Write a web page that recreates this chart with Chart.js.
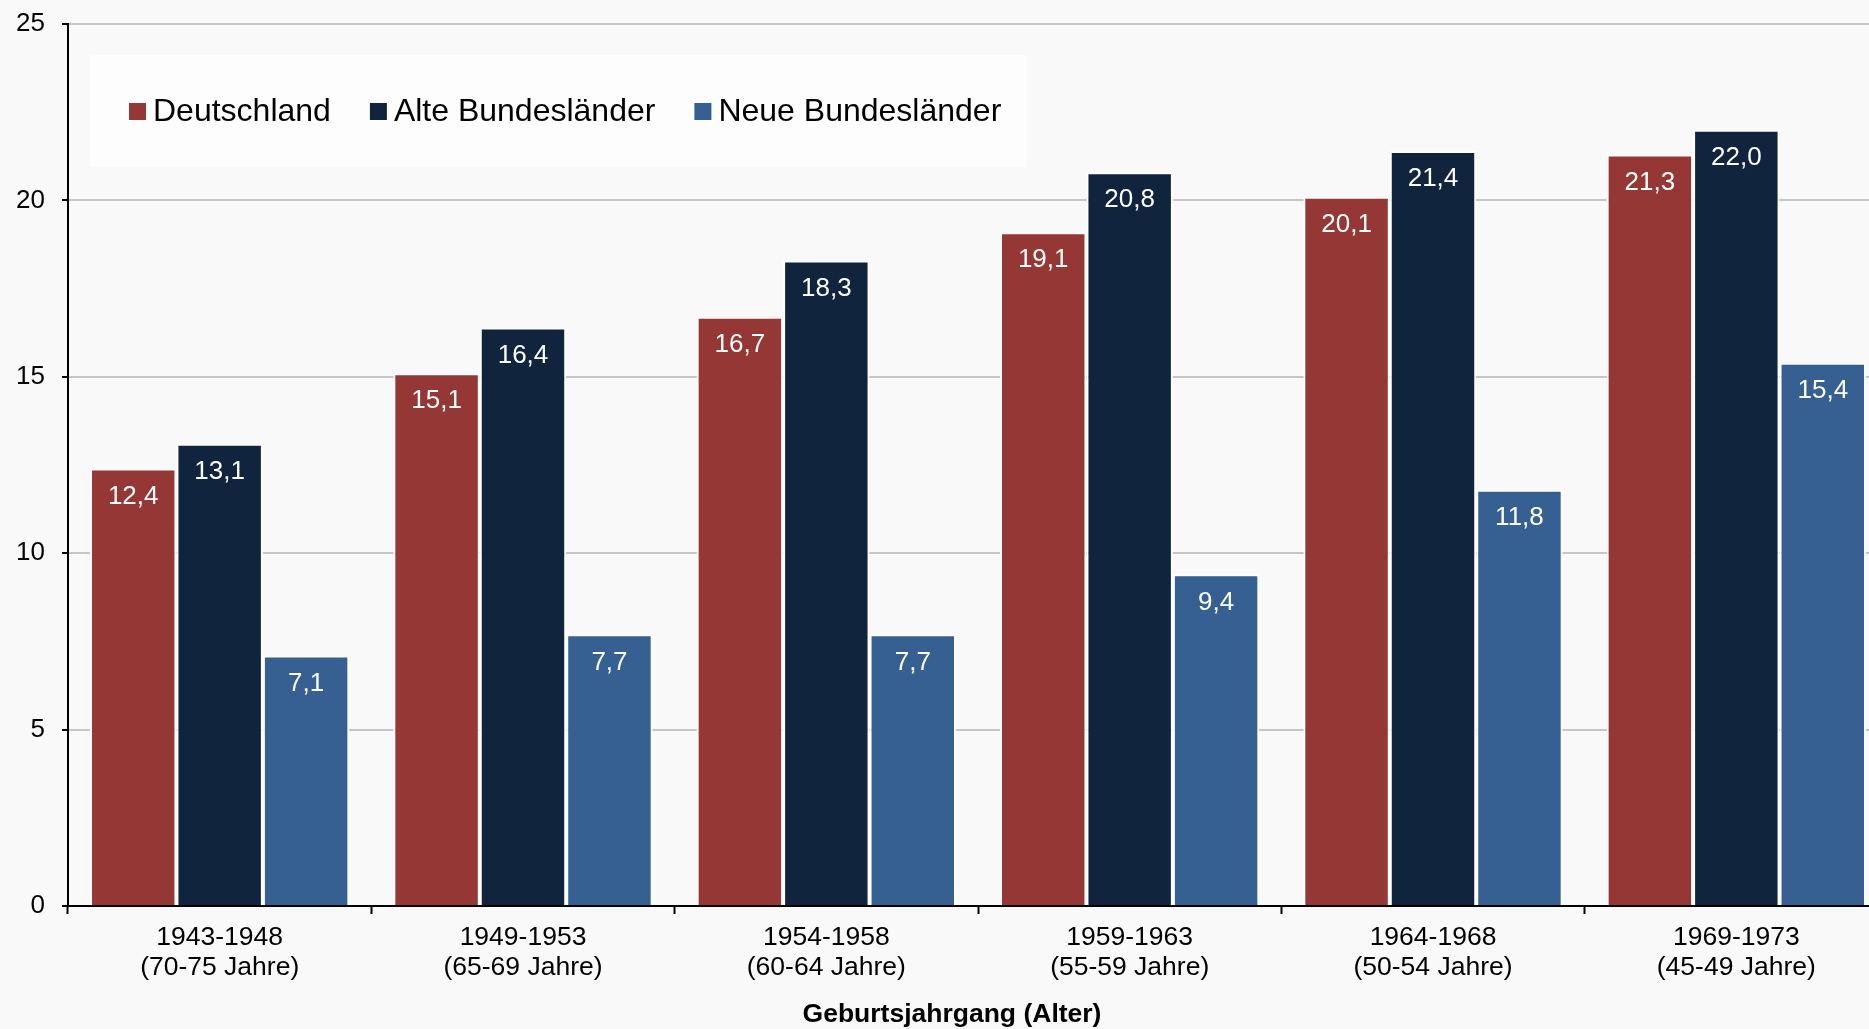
<!DOCTYPE html>
<html lang="de">
<head>
<meta charset="utf-8">
<title>Geburtsjahrgang (Alter)</title>
<script src="https://cdn.jsdelivr.net/npm/chart.js@4/dist/chart.umd.min.js"></script>
<style>
  html, body { margin: 0; padding: 0; background: #f9f9f9; overflow: hidden; }
  #wrap { width: 1869px; height: 1029px; overflow: hidden; }
  canvas { display: block; }
</style>
</head>
<body>
<div id="wrap"><canvas id="c" width="1888" height="1029"></canvas></div>
<script>
// Kohorten (Geburtsjahrgang, Alter)
const categories = [
  ['1943-1948', '(70-75 Jahre)'],
  ['1949-1953', '(65-69 Jahre)'],
  ['1954-1958', '(60-64 Jahre)'],
  ['1959-1963', '(55-59 Jahre)'],
  ['1964-1968', '(50-54 Jahre)'],
  ['1969-1973', '(45-49 Jahre)']
];
const seriesNames = ['Deutschland', 'Alte Bundesländer', 'Neue Bundesländer'];
const deutschland = [12.4, 15.1, 16.7, 19.1, 20.1, 21.3];
const alteLaender = [13.1, 16.4, 18.3, 20.8, 21.4, 22.0];
const neueLaender = [7.1, 7.7, 7.7, 9.4, 11.8, 15.4];
const yTicks = [0, 5, 10, 15, 20, 25];
const xTitle = 'Geburtsjahrgang (Alter)';

const colors = ['#953735', '#10243e', '#376092'];
const FONT = '"Liberation Sans", Arial, sans-serif';

// Werte in deutscher Schreibweise (Dezimalkomma)
const fmt = v => v.toFixed(1).replace('.', ',');

// Wertbeschriftung innen oben auf jedem Balken
const valueLabels = {
  id: 'valueLabels',
  afterDatasetsDraw(chart) {
    const ctx = chart.ctx;
    ctx.save();
    ctx.font = '26px ' + FONT;
    ctx.fillStyle = '#ffffff';
    ctx.textAlign = 'center';
    ctx.textBaseline = 'middle';
    chart.data.datasets.forEach((ds, i) => {
      chart.getDatasetMeta(i).data.forEach((bar, j) => {
        ctx.fillText(fmt(ds.data[j]), bar.x, bar.y + 28);
      });
    });
    ctx.restore();
  }
};

// Legende im Diagrammbereich und Achsentitel
const innerLegend = {
  id: 'innerLegend',
  afterDraw(chart) {
    const ctx = chart.ctx;
    const area = chart.chartArea;
    ctx.save();
    ctx.fillStyle = '#fdfdfd';
    ctx.fillRect(area.left + 22, 55, 937, 112);
    ctx.font = '32px ' + FONT;
    ctx.textBaseline = 'middle';
    let x = area.left + 61;
    const cy = 111;
    chart.data.datasets.forEach(ds => {
      ctx.fillStyle = ds.backgroundColor;
      ctx.fillRect(x, cy - 8, 17, 17);
      ctx.fillStyle = '#000000';
      ctx.fillText(ds.label, x + 24, cy + 1);
      x += 24 + ctx.measureText(ds.label).width + 39;
    });

    // Titel der Kategorienachse
    ctx.font = 'bold 26.5px ' + FONT;
    ctx.textAlign = 'center';
    ctx.fillText(xTitle, 952, 1015);
    ctx.restore();
  }
};

const mkDataset = (label, data, color) => ({
  label, data,
  backgroundColor: color,
  borderColor: '#ffffff',
  borderWidth: 2,
  borderSkipped: 'bottom',
  barPercentage: 1.0,
  categoryPercentage: 0.855
});

new Chart(document.getElementById('c'), {
  type: 'bar',
  data: {
    labels: categories,
    datasets: [
      mkDataset(seriesNames[0], deutschland, colors[0]),
      mkDataset(seriesNames[1], alteLaender, colors[1]),
      mkDataset(seriesNames[2], neueLaender, colors[2])
    ]
  },
  options: {
    responsive: false,
    animation: false,
    devicePixelRatio: 1,
    layout: { padding: { top: 24, right: 0, left: 0, bottom: 0 } },
    plugins: {
      legend: { display: false },
      tooltip: { enabled: false }
    },
    scales: {
      x: {
        offset: true,
        grid: {
          offset: true,
          drawOnChartArea: false,
          drawTicks: true,
          tickLength: 8,
          tickColor: '#000000',
          tickWidth: 2
        },
        border: { color: '#000000', width: 2 },
        ticks: {
          color: '#000000',
          padding: 8,
          maxRotation: 0,
          autoSkip: false,
          font: { family: FONT, size: 26.5, lineHeight: 1.15 }
        },
        afterFit(scale) {
          scale.height = 123;
          scale.paddingTop = 0;
          scale.paddingBottom = 0;
        }
      },
      y: {
        min: 0,
        max: 25,
        afterBuildTicks(scale) { scale.ticks = yTicks.map(v => ({ value: v })); },
        grid: {
          color: '#c6c6c6',
          lineWidth: 2,
          drawTicks: true,
          tickLength: 6,
          tickColor: '#000000',
          tickWidth: 2
        },
        border: { color: '#000000', width: 2 },
        ticks: {
          color: '#000000',
          padding: 17,
          font: { family: FONT, size: 26 }
        },
        afterFit(scale) {
          scale.width = 68;
          scale.paddingTop = 0;
          scale.paddingBottom = 0;
        }
      }
    }
  },
  plugins: [valueLabels, innerLegend]
});
</script>
</body>
</html>
